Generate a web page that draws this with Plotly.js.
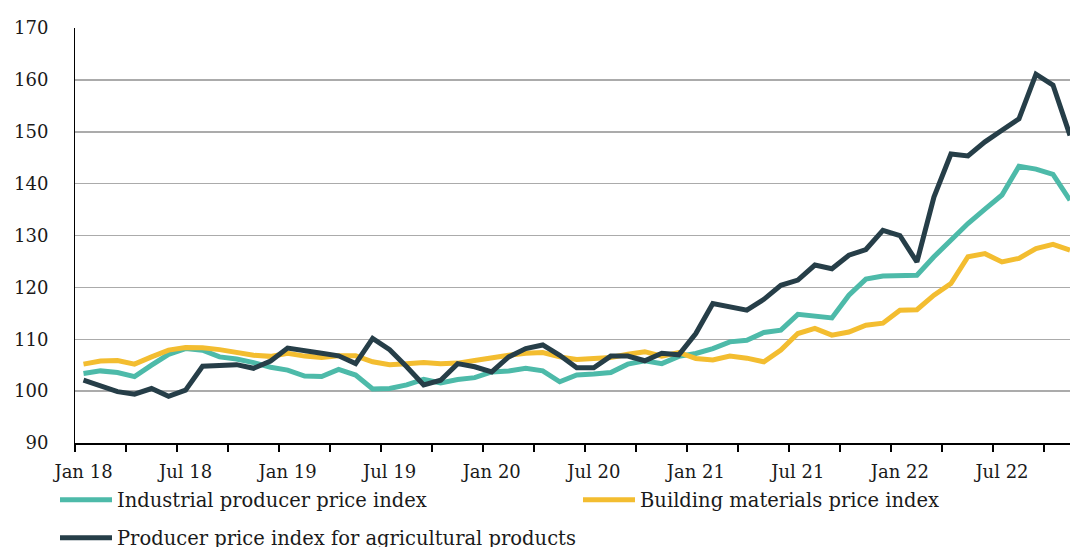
<!DOCTYPE html>
<html>
<head>
<meta charset="utf-8">
<script src="https://cdn.plot.ly/plotly-3.0.1.min.js"></script>
<style>
  html, body { margin: 0; padding: 0; background: #fff; }
  #chart { width: 1070px; height: 547px; }
</style>
</head>
<body>
<div id="chart"></div>
<script>
// Monthly price indices, Jan 2018 - Nov 2022 (2015 = 100)
var months = [
  'Jan 18','Feb 18','Mar 18','Apr 18','May 18','Jun 18','Jul 18','Aug 18','Sep 18','Oct 18','Nov 18','Dec 18',
  'Jan 19','Feb 19','Mar 19','Apr 19','May 19','Jun 19','Jul 19','Aug 19','Sep 19','Oct 19','Nov 19','Dec 19',
  'Jan 20','Feb 20','Mar 20','Apr 20','May 20','Jun 20','Jul 20','Aug 20','Sep 20','Oct 20','Nov 20','Dec 20',
  'Jan 21','Feb 21','Mar 21','Apr 21','May 21','Jun 21','Jul 21','Aug 21','Sep 21','Oct 21','Nov 21','Dec 21',
  'Jan 22','Feb 22','Mar 22','Apr 22','May 22','Jun 22','Jul 22','Aug 22','Sep 22','Oct 22','Nov 22'
];

var industrial = [
  103.4, 103.9, 103.6, 102.8, 105.0, 107.1, 108.2, 107.9, 106.6, 106.2, 105.5, 104.6,
  104.05, 102.9, 102.8, 104.2, 103.1, 100.4, 100.5, 101.2, 102.25, 101.6, 102.25, 102.6,
  103.7, 103.9, 104.4, 103.9, 101.8, 103.1, 103.3, 103.6, 105.2, 105.85, 105.3, 106.7,
  107.25, 108.2, 109.5, 109.8, 111.3, 111.75, 114.8, 114.5, 114.1, 118.5, 121.6, 122.2,
  122.2, 122.35, 125.9, 129.1, 132.3, 135.1, 137.8, 143.35, 142.8, 141.8, 136.8
];

var building = [
  105.2, 105.8, 105.9, 105.2, 106.6, 107.9, 108.4, 108.35, 108.0, 107.5, 106.9, 106.7,
  107.3, 106.75, 106.5, 106.8, 106.8, 105.65, 105.1, 105.3, 105.5, 105.3, 105.4, 105.9,
  106.5, 106.9, 107.3, 107.45, 106.6, 106.1, 106.3, 106.5, 107.1, 107.6, 106.75, 107.45,
  106.3, 106.0, 106.75, 106.35, 105.65, 107.9, 111.1, 112.1, 110.8, 111.4, 112.7, 113.1,
  115.6, 115.7, 118.5, 120.75, 125.9, 126.5, 124.9, 125.6, 127.5, 128.3, 127.2
];

var agri = [
  102.1, 100.9, 99.9, 99.4, 100.5, 99.0, 100.2, 104.8, 104.9, 105.1, 104.4, 105.8,
  108.3, 107.9, 107.3, 106.8, 105.3, 110.15, 108.0, 104.7, 101.2, 102.1, 105.3, 104.7,
  103.7, 106.6, 108.2, 108.9, 106.9, 104.5, 104.5, 106.75, 106.75, 105.85, 107.3, 107.0,
  111.1, 116.9, 116.25, 115.6, 117.7, 120.4, 121.4, 124.3, 123.6, 126.2, 127.3, 131.0,
  130.0, 124.9, 137.4, 145.7, 145.35, 148.05, 150.3, 152.5, 161.1, 159.0, 149.3
];

var idx = months.map(function (m, i) { return i; });

// label every January and July
var labelVals = [], labelText = [];
months.forEach(function (m, i) {
  if (m.indexOf('Jan') === 0 || m.indexOf('Jul') === 0) {
    labelVals.push(i);
    labelText.push(m);
  }
});

var FONT = 'DejaVu Serif';

var traces = [
  {
    x: idx, y: industrial,
    name: 'Industrial producer price index',
    type: 'scatter', mode: 'lines',
    line: { color: '#4dbaa9', width: 5 },
    legend: 'legend'
  },
  {
    x: idx, y: building,
    name: 'Building materials price index',
    type: 'scatter', mode: 'lines',
    line: { color: '#f3bd30', width: 5 },
    legend: 'legend2'
  },
  {
    x: idx, y: agri,
    name: 'Producer price index for agricultural products',
    type: 'scatter', mode: 'lines',
    line: { color: '#263e48', width: 5 },
    legend: 'legend3'
  }
];

// one legend box per entry so they sit like the original's two-column key
function legendAt(px, py) {
  return {
    orientation: 'h',
    xref: 'container', yref: 'container',
    x: px / 1070, y: 1 - py / 547,
    xanchor: 'left', yanchor: 'middle',
    itemwidth: 52,
    font: { family: FONT, size: 19.5, color: '#1a1a1a' },
    bgcolor: 'rgba(0,0,0,0)'
  };
}

var layout = {
  width: 1070,
  height: 547,
  margin: { l: 75, r: 0, t: 28, b: 104 },
  paper_bgcolor: '#fff',
  plot_bgcolor: '#fff',
  font: { family: FONT, size: 18, color: '#1a1a1a' },
  showlegend: true,
  xaxis: {
    range: [-0.5, 58.0],
    tickmode: 'array',
    tickvals: labelVals,
    ticktext: labelText,
    ticks: '',
    showgrid: false,
    zeroline: false,
    showline: true,
    linecolor: '#000',
    linewidth: 2,
    ticklabelstandoff: 11,
    minor: {
      tick0: -0.5,
      dtick: 3,
      ticks: 'outside',
      ticklen: 7,
      tickwidth: 2,
      tickcolor: '#000',
      showgrid: false
    },
    fixedrange: true
  },
  yaxis: {
    range: [90, 170],
    dtick: 10,
    tick0: 90,
    ticks: '',
    showgrid: true,
    gridcolor: '#ababab',
    gridwidth: 1.5,
    zeroline: false,
    showline: true,
    linecolor: '#000',
    linewidth: 1,
    ticklabelstandoff: 22,
    fixedrange: true
  },
  legend: legendAt(55, 500),
  legend2: legendAt(578, 500),
  legend3: legendAt(55, 538),
  hovermode: false
};

Plotly.newPlot('chart', traces, layout, { displayModeBar: false, staticPlot: true });
</script>
</body>
</html>
